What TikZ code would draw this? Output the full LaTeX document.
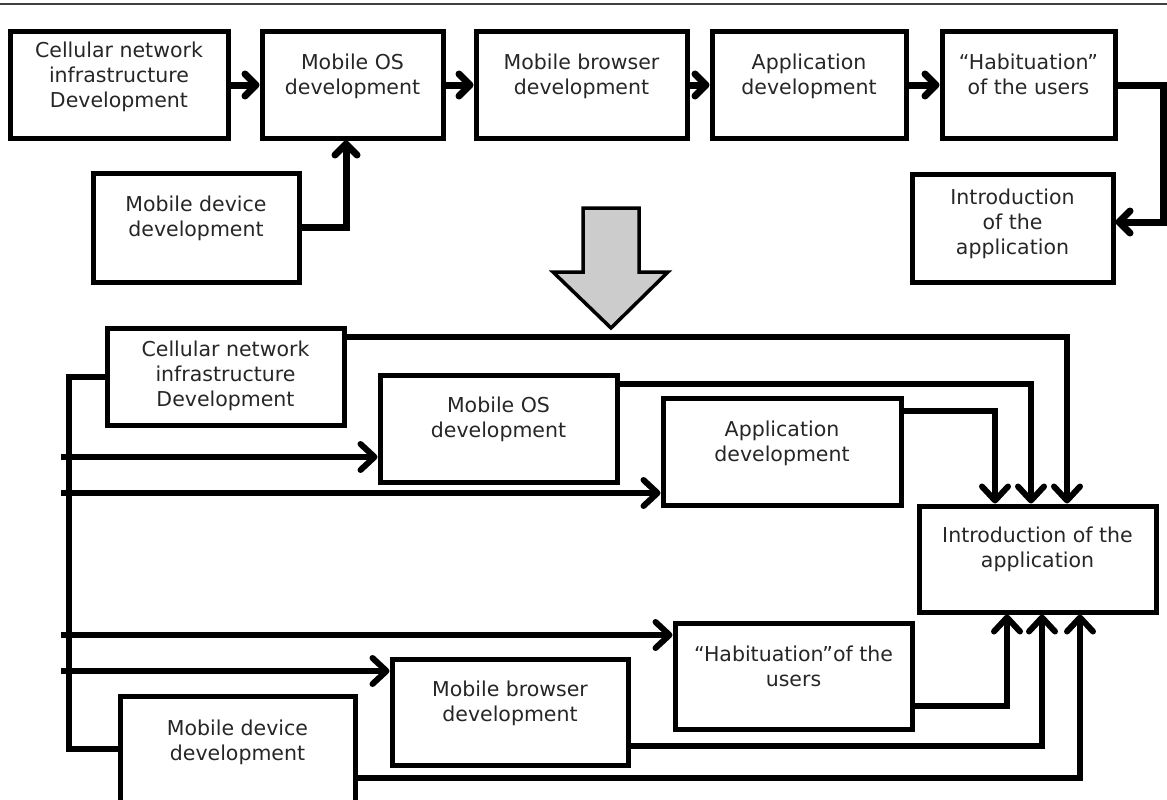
\documentclass[tikz,border=0pt]{standalone}
\usepackage{fontspec}
\setmainfont{DejaVu Sans}
\usetikzlibrary{arrows.meta}
\begin{document}
\begin{tikzpicture}[x=1pt,y=-1pt,
  box/.style={draw=black, line width=5pt, inner sep=0pt},
  txt/.style={anchor=north, align=center, inner sep=0pt, font=\fontsize{20.5}{25}\selectfont, text=black!85},
  conn/.style={line width=6pt, line join=miter},
  arr/.style={conn, -{Straight Barb[length=14pt,width=26pt,round]}},
  toparr/.style={line width=7pt, -{Straight Barb[length=11pt,width=22pt,round]}}
]
\useasboundingbox (0,0) rectangle (1167,800);
\draw[line width=2.5pt, black!75] (0,4) -- (1167,4);

% ---------- top row ----------
\node[box, minimum width=218pt, minimum height=106pt] (A) at (119,85) {};
\node[box, minimum width=181pt, minimum height=106pt] (B) at (352.5,85) {};
\node[box, minimum width=211pt, minimum height=106pt] (C) at (581.5,85) {};
\node[box, minimum width=194pt, minimum height=106pt] (D) at (809,85) {};
\node[box, minimum width=173pt, minimum height=106pt] (E) at (1028.5,85) {};
\node[box, minimum width=206pt, minimum height=109pt] (MD) at (196,227.5) {};
\node[box, minimum width=201pt, minimum height=108pt] (IN) at (1012.5,228) {};

\node[txt] (tA) at ([yshift=-12pt]A.north) {Cellular network\\infrastructure\\Development};
\node[txt] (tB) at ([yshift=-24pt]B.north) {Mobile OS\\development};
\node[txt] (tC) at ([yshift=-24pt]C.north) {Mobile browser\\development};
\node[txt] (tD) at ([yshift=-24pt]D.north) {Application\\development};
\node[txt] (tE) at ([yshift=-24pt]E.north) {“Habituation”\\of the users};
\node[txt] (tMD) at ([yshift=-25pt]MD.north) {Mobile device\\development};
\node[txt] (tIN) at ([yshift=-17pt]IN.north) {Introduction\\of the\\application};

\draw[toparr] (A.east) -- (B.west);
\draw[toparr] (B.east) -- (C.west);
\draw[toparr] (C.east) -- (D.west);
\draw[toparr] (D.east) -- (E.west);
\draw[toparr, line join=miter] (MD.east) -| ([xshift=-6.5pt]B.south);
\coordinate (rc) at (1163,85);
\draw[toparr, line join=miter] (E.east) -- (rc) |- ([yshift=6pt]IN.east);

% ---------- big grey arrow ----------
\draw[line width=3.5pt, fill=black!20, line join=miter]
  (583,208) -- (639,208) -- (639,272) -- (668,272) -- (611,328) -- (553,272) -- (583,272) -- cycle;

% ---------- bottom part ----------
\node[box, minimum width=237pt, minimum height=97pt] (bC) at (225.5,376.5) {};
\node[box, minimum width=237pt, minimum height=107pt] (bOS) at (498.5,428.5) {};
\node[box, minimum width=238pt, minimum height=107pt] (bApp) at (782,451.5) {};
\node[box, minimum width=237pt, minimum height=106pt] (bIn) at (1037.5,559) {};
\node[box, minimum width=237pt, minimum height=106pt] (bHab) at (793.5,676) {};
\node[box, minimum width=236pt, minimum height=106pt] (bBr) at (510,712) {};
\node[box, minimum width=235pt, minimum height=106pt] (bMD) at (237.5,749) {};

\node[txt] (tbC) at ([yshift=-15pt]bC.north) {Cellular network\\infrastructure\\Development};
\node[txt] (tbOS) at ([yshift=-24pt]bOS.north) {Mobile OS\\development};
\node[txt] (tbApp) at ([yshift=-25pt]bApp.north) {Application\\development};
\node[txt] (tbIn) at ([yshift=-23pt]bIn.north) {Introduction of the\\application};
\node[txt] (tbHab) at ([yshift=-25pt]bHab.north) {“Habituation”of the\\users};
\node[txt] (tbBr) at ([yshift=-24pt]bBr.north) {Mobile browser\\development};
\node[txt] (tbMD) at ([yshift=-26pt]bMD.north) {Mobile device\\development};

% bus on the left
\coordinate (busB) at (69,749);
\draw[conn] (bC.west) -| (busB) -- (bMD.west);
\coordinate (l1) at (61,457);
\coordinate (l2) at (61,493);
\coordinate (l3) at (61,635);
\coordinate (l4) at (61,671);
\draw[arr] (l1) -- (l1 -| bOS.west);
\draw[arr] (l2) -- (l2 -| bApp.west);
\draw[arr] (l3) -- (l3 -| bHab.west);
\draw[arr] (l4) -- (l4 -| bBr.west);

% into the introduction box
\draw[arr] ([yshift=-11pt]bC.north east) -| ([xshift=29.5pt]bIn.north);
\draw[arr] ([yshift=-11pt]bOS.north east) -| ([xshift=-6.5pt]bIn.north);
\draw[arr] ([yshift=-15pt]bApp.north east) -| ([xshift=-42.5pt]bIn.north);
\draw[arr] ([yshift=26pt]bHab.south east) -| ([xshift=-30.5pt]bIn.south);
\draw[arr] ([yshift=22pt]bBr.south east) -| ([xshift=4.5pt]bIn.south);
\draw[arr] ([yshift=-29pt]bMD.east) -| ([xshift=42.5pt]bIn.south);
\end{tikzpicture}
\end{document}
